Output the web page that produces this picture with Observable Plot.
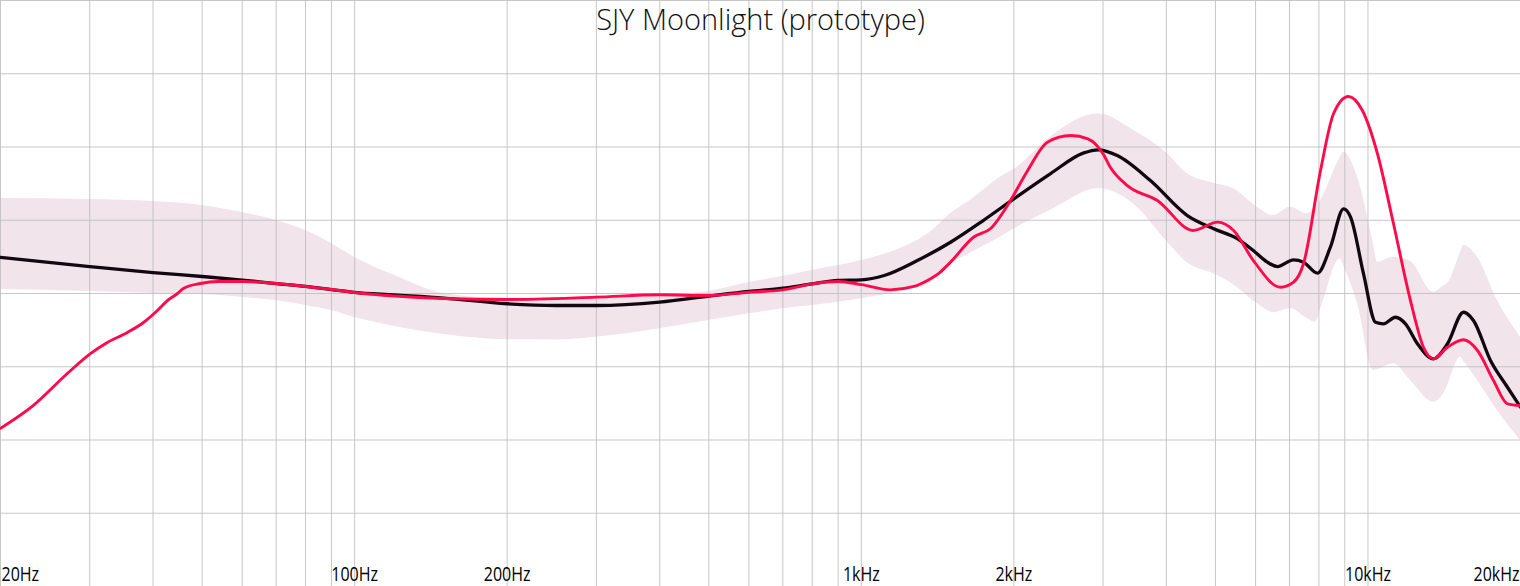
<!DOCTYPE html>
<html>
<head>
<meta charset="utf-8">
<script src="https://cdn.jsdelivr.net/npm/d3@7"></script>
<script src="https://cdn.jsdelivr.net/npm/@observablehq/plot@0.6"></script>
<style>
  html, body { margin: 0; padding: 0; background: #fff; }
  #chart svg { display: block; }
</style>
</head>
<body>
<div id="chart"></div>
<script>
// ---- Data ----
const chartTitle = "SJY Moonlight (prototype)";

const gridFreqs = [20,30,40,50,60,70,80,90,100,200,300,400,500,600,700,800,900,1000,2000,3000,4000,5000,6000,7000,8000,9000,10000,20000];
const gridDb = [45,50,55,60,65,70,75,80,85];

const tickFreqs = [20,100,200,1000,2000,10000,20000];
const tickLabels = ["20Hz","100Hz","200Hz","1kHz","2kHz","10kHz","20kHz"];

// Target range band (upper / lower, dB)
const bandFreq  = [20,30,40,50,60,70,80,90,100,120,150,200,250,300,400,500,600,700,800,1000,1200,1370,1500,1640,1880,2030,2360,2940,3450,4020,4400,4960,5430,6050,6510,7030,7590,7880,8060,8820,8950,9540,10250,10440,11230,12130,13470,14100,14350,15230,15440,16450,18010,20000];
const bandUpper = [71.48,71.42,71.28,71.01,70.53,69.98,69.30,68.41,67.46,66.23,65.00,64.66,64.70,64.73,64.86,65.14,65.75,66.16,66.57,67.25,68.10,69.20,70.44,71.35,72.94,73.62,75.67,77.27,76.13,74.54,73.17,72.53,72.15,70.89,70.32,70.89,70.44,70.90,71.35,74.30,74.65,72.94,68.40,67.14,67.48,67.20,65.09,65.50,65.66,67.80,68.28,67.48,64.52,62.02];
const bandLower = [65.27,65.14,65.00,64.93,64.73,64.52,64.18,63.84,63.36,62.75,62.20,61.84,61.83,62.02,62.59,63.16,63.61,63.96,64.18,64.64,65.15,65.75,66.98,67.75,68.84,69.53,70.67,72.15,71.10,68.50,67.10,66.34,65.60,64.30,63.70,63.96,63.30,63.04,63.90,67.37,66.90,64.30,59.74,59.80,60.20,59.06,57.58,58.15,58.70,60.65,60.40,59.06,57.01,54.97];

// Target (black)
const targetFreq = [20,30,40,50,60,70,80,90,100,120,150,200,250,300,400,500,600,700,800,900,1000,1110,1290,1500,1740,2000,2360,2740,2940,3200,3720,4400,4960,5530,6000,6330,6630,7130,7460,7950,8430,8950,9240,9800,10350,10730,11330,11860,12520,13470,14350,15440,16150,17450,18850,20000];
const targetDb   = [67.46,66.84,66.43,66.16,65.92,65.68,65.48,65.27,65.07,64.90,64.69,64.30,64.18,64.18,64.41,64.82,65.14,65.36,65.66,65.89,65.93,66.23,67.25,68.50,69.98,71.46,73.17,74.58,74.81,74.42,72.71,70.32,69.42,68.73,67.80,67.14,66.84,67.30,67.14,66.39,68.16,70.78,70.21,66.34,63.04,62.93,63.38,62.93,61.57,60.54,61.57,63.72,63.16,60.43,58.60,57.24];

// SJY Moonlight (red)
const iemFreq = [20,23.2,27.1,30.1,32.5,35.6,38.3,40.8,42.7,44.7,45.9,49.6,53.7,60.6,70,80,90,100,120,150,200,300,400,500,600,700,800,900,1000,1140,1270,1350,1430,1500,1665,1800,1970,2130,2330,2590,2800,3000,3100,3350,3840,4520,5050,5430,5940,6720,7130,7460,8060,8550,9150,9750,10440,11230,12130,12870,13470,14350,15440,16450,17690,18850,20000];
const iemDb   = [55.8,57.35,59.54,60.9,61.66,62.34,63.02,63.84,64.52,65.0,65.34,65.68,65.82,65.82,65.68,65.48,65.27,65.07,64.83,64.66,64.59,64.75,64.91,64.86,65.09,65.25,65.66,65.82,65.61,65.25,65.48,65.89,66.45,67.14,68.84,69.44,71.35,73.40,75.33,75.78,75.56,74.54,73.62,72.37,71.35,69.30,69.87,69.30,67.25,65.43,65.77,67.03,73.40,77.27,78.45,77.49,74.54,69.76,64.52,61.33,60.54,61.33,61.84,61.11,59.06,57.47,57.35];

// ---- Build tables ----
const band = bandFreq.map((f, i) => ({f, hi: bandUpper[i], lo: bandLower[i]}));
const target = targetFreq.map((f, i) => ({f, v: targetDb[i]}));
const iem = iemFreq.map((f, i) => ({f, v: iemDb[i]}));
const ticks = tickFreqs.map((f, i) => ({f, label: tickLabels[i],
  anchor: i === 0 ? "start" : (i === tickFreqs.length - 1 ? "end" : "middle")}));

const labelFont = "'Open Sans', sans-serif";
const labelOpts = {x: "f", text: "label", frameAnchor: "bottom", lineAnchor: "bottom", dy: -6,
  fontSize: 20, fontFamily: labelFont, fill: "#000", className: "freq-label"};

const chart = Plot.plot({
  width: 1520,
  height: 586,
  margin: 0,
  style: {background: "#fff", overflow: "hidden"},
  x: {type: "log", domain: [20, 20000], axis: null},
  y: {domain: [45, 85], axis: null},
  marks: [
    Plot.areaY(band, {x: "f", y1: "lo", y2: "hi", fill: "#f1e4eb", curve: "monotone-x"}),
    Plot.ruleX(gridFreqs, {x: d => d, stroke: "#bdbdbd", strokeOpacity: 0.85, strokeWidth: 1}),
    Plot.ruleY(gridDb, {y: d => d, stroke: "#bdbdbd", strokeOpacity: 0.85, strokeWidth: 1}),
    Plot.line(target, {x: "f", y: "v", stroke: "#140810", strokeWidth: 3.3, curve: "monotone-x"}),
    Plot.line(iem, {x: "f", y: "v", stroke: "#ff0a4b", strokeWidth: 2.9, curve: "monotone-x"}),
    Plot.text(ticks.filter(d => d.anchor === "start"), {...labelOpts, textAnchor: "start", dx: 1}),
    Plot.text(ticks.filter(d => d.anchor === "middle"), {...labelOpts, textAnchor: "middle"}),
    Plot.text(ticks.filter(d => d.anchor === "end"), {...labelOpts, textAnchor: "end", dx: -1}),
    Plot.text([chartTitle], {text: d => d, frameAnchor: "top", lineAnchor: "top", dy: 9, fontSize: 29, fontFamily: "'Open Sans', sans-serif", fontWeight: 300, fill: "#111"})
  ]
});

// Narrow the frequency labels horizontally (reference uses a condensed face)
d3.select(chart).selectAll(".freq-label text").each(function() {
  const t = this.getAttribute("transform");
  if (t) {
    this.setAttribute("transform", t + " scale(0.8,1)");
  } else {
    const x = +(this.getAttribute("x") || 0), y = +(this.getAttribute("y") || 0);
    this.removeAttribute("x"); this.removeAttribute("y");
    this.setAttribute("transform", `translate(${x},${y}) scale(0.8,1)`);
  }
});

document.getElementById("chart").appendChild(chart);
</script>
</body>
</html>
